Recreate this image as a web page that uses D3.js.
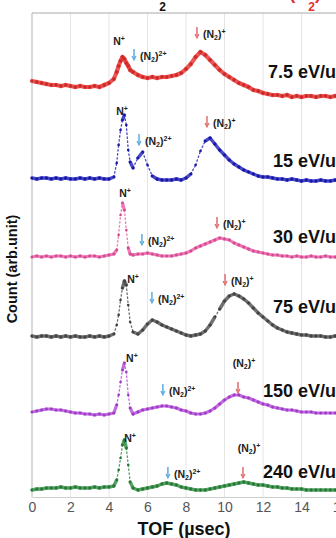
<!DOCTYPE html>
<html>
<head>
<meta charset="utf-8">
<script src="https://cdn.jsdelivr.net/npm/d3@7"></script>
<style>
  body { margin: 0; background: #fff; }
  svg { display: block; font-family: "Liberation Sans", Arial, sans-serif; }
</style>
</head>
<body>
<svg id="chart" width="336" height="538"></svg>
<script>
// time of flight grid (usec)
const tof = [0,0.25,0.5,0.75,1,1.25,1.5,1.75,2,2.25,2.5,2.75,3,3.25,3.5,3.75,4,4.25,
  4.4,4.5,4.6,4.7,4.8,4.9,5,5.1,
  5.25,5.5,5.75,6,6.25,6.5,6.75,7,7.25,7.5,7.75,8,8.25,8.5,8.75,9,9.25,9.5,9.75,10,
  10.25,10.5,10.75,11,11.25,11.5,11.75,12,12.25,12.5,12.75,13,13.25,13.5,13.75,14,
  14.25,14.5,14.75,15,15.25,15.5,15.75,16,16.25,16.5];

const energies = ["7.5 eV/u", "15 eV/u", "30 eV/u", "75 eV/u", "150 eV/u", "240 eV/u"];
const offsets = [400, 316, 240, 160, 84, 7];

const counts75 = [16,15,14,13,12,12,11,12,11,10,11,10,10,11,10,12,14,18,
  25,31,36,40,38,34,31,27,
  25,22,20,19,20,19,20,20,21,22,24,28,33,40,45,42,37,32,27,23,
  20,17,14,12,10,7,6,4,3,2,2,1,2,0,1,0,1,1,0,1,1,0,1,0,0,1];
const counts15 = [3,2,3,3,2,3,2,3,2,2,3,2,3,2,3,2,2,4,
  18,36,51,61,66,56,31,19,
  13,23,29,16,5,2,1,1,1,2,1,3,7,16,30,40,43,37,31,26,
  21,17,14,11,9,7,5,4,4,3,2,2,1,2,1,0,1,0,0,1,0,0,1,0,0,0];
const counts30 = [0,1,0,1,0,1,1,0,1,0,1,0,1,1,0,1,2,3,
  7,22,42,54,47,27,9,3,
  2,3,3,4,3,2,1,1,1,2,3,4,6,9,11,13,15,17,19,18,
  17,14,12,10,8,6,5,4,3,2,2,1,1,0,1,0,0,1,0,0,1,0,0,1,0,0];
const counts75b = [1,0,1,1,0,1,0,1,0,1,0,0,1,0,1,0,1,3,
  12,22,37,49,56,52,32,15,
  5,3,7,13,17,15,12,10,8,6,4,2,1,2,3,6,12,20,28,36,
  41,43,41,38,34,29,24,20,16,12,9,7,5,4,3,2,2,1,1,1,0,0,1,0,0,0];
const counts150 = [1,2,3,4,4,3,3,2,1,0,0,-1,-1,-2,-1,-2,-1,0,
  8,18,31,43,50,41,18,5,
  -1,1,3,4,5,6,7,7,6,5,3,2,0,-1,-1,0,2,5,9,13,
  16,18,18,16,15,13,11,9,8,6,5,4,3,3,2,1,1,1,0,0,0,0,0,0,0,0];
const counts240 = [0,1,1,2,2,2,3,2,2,3,2,2,2,3,2,3,3,4,
  10,20,32,45,50,42,25,8,
  2,0,1,2,3,4,6,7,6,5,3,2,1,0,0,0,1,2,3,4,
  5,6,7,8,7,6,5,5,4,3,3,2,2,1,1,1,0,0,0,0,0,0,0,0,0,0];
const allCounts = [counts75, counts15, counts30, counts75b, counts150, counts240];

// peak markers [tof, count]
const nPlusAt = [[4.52,452],[4.68,382],[4.83,300],[5.25,214],[5.19,135],[5.09,55]];
const dicationAt = [[5.3,437],[5.56,352],[5.71,252],[6.23,194],[6.8,102],[7.06,19]];
const monocationAt = [[8.57,459],[9.09,370],[9.61,269],[10.03,212],[10.7,104],[10.96,19]];
const xTicks = [0,2,4,6,8,10,12,14,16];

const colors = ["#e3302f", "#1d1dbb", "#ec5aa6", "#4d4d4d", "#b349dc", "#2d8a3f"];
const bandWidth = [4.2, 3.4, 3.2, 3.4, 3.2, 3.4];

const width = 336, height = 538;
const plotLeft = 32, plotTop = 13, plotBottom = 497;
const svg = d3.select("#chart");

const x = d3.scaleLinear().domain([0, 16]).range([plotLeft, 340]);
const y = d3.scaleLinear().domain([0, 484]).range([plotBottom, plotTop]);

// grid
svg.append("g").selectAll("line")
  .data(xTicks.filter(d => d > 0))
  .enter().append("line")
  .attr("x1", d => x(d)).attr("x2", d => x(d))
  .attr("y1", plotTop).attr("y2", plotBottom)
  .attr("stroke", "#e4e4e4").attr("stroke-width", 1);

svg.append("line").attr("x1", plotLeft).attr("x2", width).attr("y1", plotTop).attr("y2", plotTop)
  .attr("stroke", "#a8a8a8");
svg.append("line").attr("x1", plotLeft).attr("x2", plotLeft).attr("y1", plotTop).attr("y2", plotBottom)
  .attr("stroke", "#b5b5b5");

const xAxis = svg.append("g")
  .attr("transform", "translate(0," + plotBottom + ")")
  .call(d3.axisBottom(x).tickValues(xTicks).tickSize(0).tickPadding(5));
xAxis.select(".domain").attr("stroke", "#cfcfcf");
xAxis.selectAll("text")
  .style("font-size", "14px")
  .style("font-family", "'Liberation Sans', Arial, sans-serif")
  .attr("fill", "#555");

// traces
allCounts.forEach((counts, k) => {
  const pts = tof.map((t, i) => [x(t), y(offsets[k] + counts[i])]);
  const g = svg.append("g");
  g.selectAll("line")
    .data(d3.pairs(pts))
    .enter().append("line")
    .attr("x1", d => d[0][0]).attr("y1", d => d[0][1])
    .attr("x2", d => d[1][0]).attr("y2", d => d[1][1])
    .attr("stroke", colors[k])
    .attr("stroke-linecap", "round")
    .attr("stroke-width", d => Math.abs(d[1][1] - d[0][1]) > 8 ? 1.3 : bandWidth[k])
    .attr("stroke-dasharray", d => Math.abs(d[1][1] - d[0][1]) > 8 ? "1.5 2.5" : null)
    .attr("opacity", 0.8);
  g.selectAll("circle")
    .data(pts)
    .enter().append("circle")
    .attr("cx", d => d[0]).attr("cy", d => d[1])
    .attr("r", 1.3)
    .attr("fill", d3.color(colors[k]).darker(0.4));

  // energy label
  svg.append("text")
    .attr("x", 336).attr("y", y(offsets[k]) - [19, 14, 14, 24, 16, 12][k])
    .attr("text-anchor", "end")
    .style("font-size", "18px").style("font-weight", "bold")
    .attr("fill", "#111")
    .text(energies[k]);
});

// small ion labels
function ionLabel(sel, sup) {
  sel.append("tspan").text("(N");
  sel.append("tspan").attr("dy", 2).style("font-size", "7px").text("2");
  sel.append("tspan").attr("dy", -2).text(")");
  sel.append("tspan").attr("dy", -4).style("font-size", "7px").text(sup);
}

function arrow(tx, c, color) {
  svg.append("line")
    .attr("x1", x(tx)).attr("x2", x(tx))
    .attr("y1", y(c) - 11).attr("y2", y(c) - 2)
    .attr("stroke", color).attr("stroke-width", 1.4);
  svg.append("path")
    .attr("d", d3.line()([[x(tx) - 2, y(c) - 4], [x(tx), y(c)], [x(tx) + 2, y(c) - 4]]))
    .attr("fill", "none").attr("stroke", color).attr("stroke-width", 1.1);
}

nPlusAt.forEach(d => {
  const t = svg.append("text")
    .attr("x", x(d[0])).attr("y", y(d[1]))
    .attr("text-anchor", "middle")
    .style("font-size", "10.5px").style("font-weight", "bold").attr("fill", "#222");
  t.append("tspan").text("N");
  t.append("tspan").attr("dy", -4).style("font-size", "7px").text("+");
});

dicationAt.forEach(d => {
  arrow(d[0], d[1], "#4fa6de");
  const t = svg.append("text")
    .attr("x", x(d[0]) + 6).attr("y", y(d[1]))
    .style("font-size", "10.5px").style("font-weight", "bold").attr("fill", "#222");
  ionLabel(t, "2+");
});

monocationAt.forEach((d, k) => {
  arrow(d[0], d[1], "#e06262");
  const above = k >= 4;
  const t = svg.append("text")
    .attr("x", x(d[0]) + 6)
    .attr("y", above ? y(d[1]) - 26 : y(d[1]))
    .attr("text-anchor", above ? "middle" : "start")
    .style("font-size", "10.5px").style("font-weight", "bold").attr("fill", "#222");
  ionLabel(t, "+");
});

// axis titles
svg.append("text")
  .attr("x", 184).attr("y", 535)
  .attr("text-anchor", "middle")
  .style("font-size", "18px").style("font-weight", "bold").attr("fill", "#111")
  .text("TOF (\u00b5sec)");

svg.append("text")
  .attr("transform", "translate(17,269) rotate(-90)")
  .attr("text-anchor", "middle")
  .style("font-size", "14.5px").style("font-weight", "bold").attr("fill", "#111")
  .text("Count (arb.unit)");

// title, cut off by the top edge
const t1 = svg.append("text").attr("x", 166).attr("y", -1).attr("text-anchor", "end")
  .style("font-size", "18px").style("font-weight", "bold").attr("fill", "#111");
t1.append("tspan").text("Ar + N");
t1.append("tspan").attr("dy", 12).style("font-size", "12px").text("2");

const t2 = svg.append("text").attr("x", 321).attr("y", -1).attr("text-anchor", "end")
  .style("font-size", "18px").style("font-weight", "bold").attr("fill", "#e3302f");
t2.append("tspan").text("Ar + (N");
t2.append("tspan").attr("dy", 12).style("font-size", "12px").text("2");
t2.append("tspan").attr("dy", -12).text(")");
</script>
</body>
</html>
